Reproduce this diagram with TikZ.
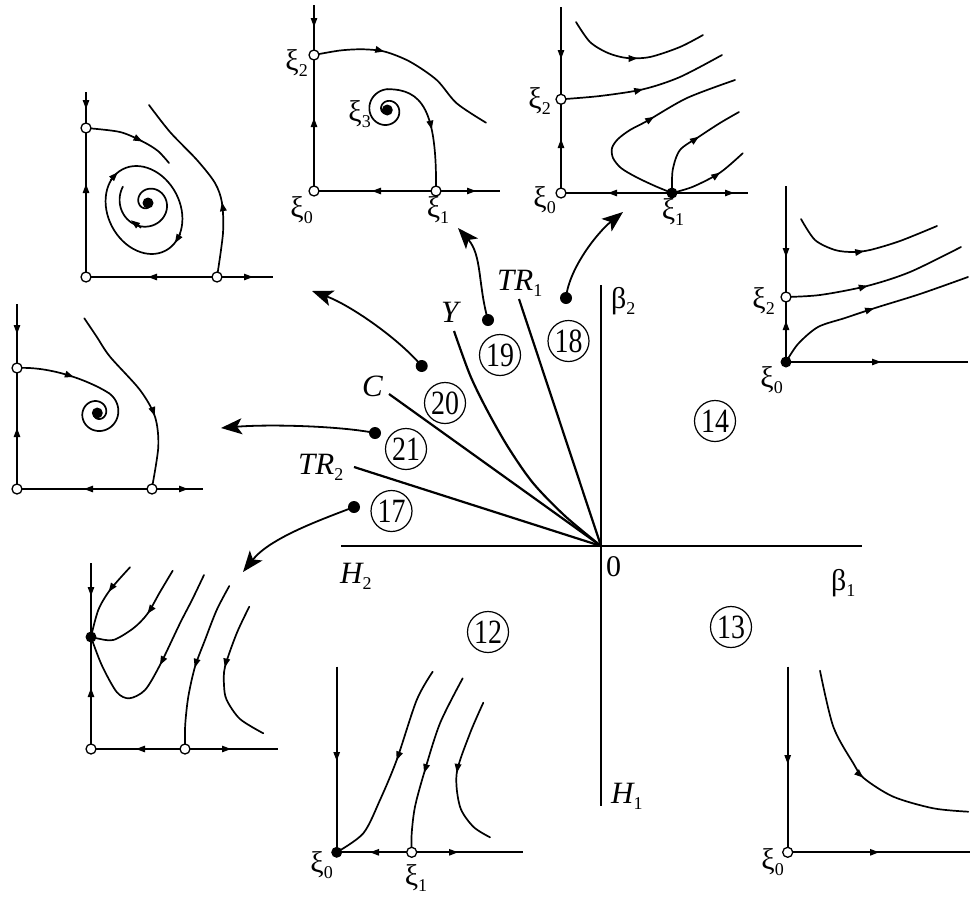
\documentclass[tikz,border=0pt]{standalone}
\usepackage{fontspec}
\usepackage{graphicx}
\setmainfont{Liberation Serif}
\usetikzlibrary{arrows.meta,decorations.markings}

\newcommand{\sbx}[1]{\raisebox{-0.22em}{\fontsize{18}{18}\selectfont\upshape #1}}
\newcommand{\xil}[1]{ξ\sbx{#1}}
\newcommand{\cnum}[1]{\scalebox{0.82}[1]{#1}}
\newcommand{\tipD}[2]{\draw[axarr] (#1,#2-7) -- (#1,#2+4);}
\newcommand{\tipU}[2]{\draw[axarr] (#1,#2+7) -- (#1,#2-4);}
\newcommand{\tipL}[2]{\draw[axarr] (#1+7,#2) -- (#1-4,#2);}
\newcommand{\tipR}[2]{\draw[axarr] (#1-7,#2) -- (#1+4,#2);}

\tikzset{
  ax/.style={line width=1.8pt},
  tr/.style={line width=1.7pt, line cap=round},
  fl/.style={postaction={decorate,decoration={markings,mark=at position #1 with {\arrow{Triangle[length=9pt,width=6.5pt]}}}}},
  axarr/.style={line width=1.2pt, -{Triangle[length=9pt,width=6.5pt]}},
  opn/.style={circle, draw, fill=white, line width=1.3pt, minimum size=10pt, inner sep=0pt},
  fld/.style={circle, fill, minimum size=11pt, inner sep=0pt},
  num/.style={circle, draw, line width=1.2pt, minimum size=41pt, inner sep=0pt, font=\fontsize{34}{34}\selectfont},
  lab/.style={inner sep=0pt, font=\fontsize{30}{30}\selectfont},
  ital/.style={inner sep=0pt, font=\fontsize{31}{31}\selectfont\itshape},
  conn/.style={line width=1.8pt, -{Stealth[length=21pt,width=16pt,inset=5pt]}},
  cdot/.style={circle, fill, minimum size=12pt, inner sep=0pt},
  mainax/.style={line width=2.8pt},
  ray/.style={line width=2.2pt},
}

\begin{document}
\begin{tikzpicture}[x=1pt,y=-1pt]
\useasboundingbox (0,0) rectangle (970,897);

% ================= main bifurcation diagram
\coordinate (O) at (601,546);
\coordinate (hl) at (341,546);
\coordinate (hr) at (862,546);
\coordinate (vt) at (601,285);
\coordinate (vb) at (601,806);
\draw[mainax] (hl) -- (hr);
\draw[mainax] (vt) -- (vb);
\coordinate (tr1s) at (519,299);
\coordinate (cs) at (389,394);
\coordinate (tr2s) at (354,467);
\draw[ray] (tr1s) -- (O);
\draw[ray] plot[smooth] coordinates {(454,331) (470,375) (487,410) (508,447) (533,483) (565,516) (601,546)};
\draw[ray] (cs) -- (O);
\draw[ray] (tr2s) -- (O);

\node[ital, anchor=base west] (lTR1) at (497,290) {TR\sbx{1}};
\node[ital, anchor=base west] (lY) at (441,322) {Y};
\node[ital, anchor=base west] (lC) at (362,396) {C};
\node[ital, anchor=base west] (lTR2) at (298,474) {TR\sbx{2}};
\node[ital, anchor=base west] (lH2) at (340,583) {H\sbx{2}};
\node[ital, anchor=base west] (lH1) at (611,803) {H\sbx{1}};
\node[lab, anchor=base west] (l0) at (606,576) {0};
\node[lab, anchor=base west] (lb1) at (831,590) {β\sbx{1}};
\node[lab, anchor=base west] (lb2) at (611,308) {β\sbx{2}};

\node[num] (n18) at (568.5,341) {\cnum{18}};
\node[num] (n19) at (500,355) {\cnum{19}};
\node[num] (n20) at (445,403) {\cnum{20}};
\node[num] (n21) at (406,449) {\cnum{21}};
\node[num] (n17) at (391.5,511) {\cnum{17}};
\node[num] (n14) at (715,421) {\cnum{14}};
\node[num] (n12) at (488,632) {\cnum{12}};
\node[num] (n13) at (731,627) {\cnum{13}};

% connectors
\node[cdot] (d18) at (566,298) {};
\coordinate (t18) at (623,212);
\draw[conn] (d18.center) .. controls (569,268) and (598,232) .. (t18);
\node[cdot] (d19) at (488,320) {};
\coordinate (t19) at (458,228);
\draw[conn] (d19.center) .. controls (478,285) and (482,255) .. (t19);
\node[cdot] (d20) at (421.7,366) {};
\coordinate (t20) at (312,291);
\draw[conn] (d20.center) .. controls (398,338) and (350,305) .. (t20);
\node[cdot] (d21) at (375,433) {};
\coordinate (t21) at (221,428);
\draw[conn] (d21.center) .. controls (340,426) and (270,424) .. (t21);
\node[cdot] (d17) at (354,507) {};
\coordinate (t17) at (243,572);
\draw[conn] (d17.center) .. controls (320,520) and (270,538) .. (t17);

% ================= P20 (top left)
\draw[ax] (86,92) -- (86,277) -- (273,277);
\tipD{86}{105} \tipU{86}{188} \tipL{152}{277} \tipR{249}{277}
\draw[tr, fl=0.63] plot[smooth] coordinates {(86,128) (120,132) (143,141.7) (158,151) (169,163)};
\draw[tr, fl=0.38] plot[smooth] coordinates {(217,277) (223,233) (222,203) (215,183) (197,160) (170,132) (149,105)};
\draw[tr, rotate around={-62:(144,210)}] (144,210) ellipse [x radius=46, y radius=36];
\draw[axarr] (110.2,180.3) -- (117.7,172.3);
\draw[axarr] (180.6,233.7) -- (174.9,243.1);
\draw[tr] plot[domain=-300:213, samples=110, smooth, variable=\ang]
  ({148+(3+0.0526*(\ang+300))*cos(\ang)}, {203+(3+0.0526*(\ang+300))*sin(\ang)});
\draw[axarr] (141,228) -- (131,220.3);
\node[fld] (p20c) at (148,203) {};
\node[opn] (p20a) at (86,128) {};
\node[opn] (p20o) at (86,277) {};
\node[opn] (p20b) at (217,277) {};

% ================= P19 (top middle)
\draw[ax] (314,5) -- (314,191) -- (500,191);
\tipD{314}{23} \tipU{314}{122} \tipL{376}{191} \tipR{472}{191}
\draw[tr, fl=0.36] plot[smooth] coordinates {(314,55) (340,50.5) (363,49.3) (385,51.7) (410,61.7) (436.7,80) (456.7,103.3) (486,122.7)};
\draw[tr] plot[domain=-270:270, samples=110, smooth, variable=\ang]
  ({387.3+(3+0.033*(\ang+270))*cos(\ang)}, {110+(3+0.033*(\ang+270))*sin(\ang)});
\draw[tr, fl=0.52] (387.3,89.2) .. controls (422,89) and (437,110) .. (436,191);
\node[fld] (p19c) at (387.3,110) {};
\node[opn] (p19a) at (314,55) {};
\node[opn] (p19o) at (314,191) {};
\node[opn] (p19b) at (436,191) {};
\node[lab, anchor=east] (p19l2) at (308,63) {\xil{2}};
\node[lab, anchor=east] (p19l3) at (371,114) {\xil{3}};
\node[lab, anchor=north east] (p19l0) at (313,196) {\xil{0}};
\node[lab, anchor=north] (p19l1) at (438,196) {\xil{1}};

% ================= P18 (top right)
\draw[ax] (561,7) -- (561,193) -- (748,193);
\tipD{561}{55} \tipU{561}{143} \tipL{612}{193} \tipR{730}{193}
\draw[tr, fl=0.52] plot[smooth] coordinates {(576,22) (590,42) (608,53) (627,58) (650,57) (680,47) (703,35)};
\draw[tr, fl=0.49] plot[smooth] coordinates {(561,99.3) (600,96) (643,89.3) (680,77) (722,55)};
\draw[tr, fl=0.6] plot[smooth] coordinates {(672,193) (655,186) (636,177) (621,168) (613,158) (612,148) (618,139) (630,130) (647,121) (687,98) (735,80)};
\draw[tr, fl=0.59] plot[smooth] coordinates {(672,193) (672.7,170) (680,150) (699,136.7) (720,123) (739,112)};
\draw[tr, fl=0.64] plot[smooth] coordinates {(672,193) (693,186.7) (720,172.7) (742.7,153.3)};
\node[opn] (p18a) at (561,99.3) {};
\node[opn] (p18o) at (561,193) {};
\node[fld] (p18b) at (672,193) {};
\node[lab, anchor=east] (p18l2) at (551,101) {\xil{2}};
\node[lab, anchor=east] (p18l0) at (556,200) {\xil{0}};
\node[lab, anchor=north] (p18l1) at (673,198) {\xil{1}};

% ================= P14 (right)
\draw[ax] (786,186) -- (786,362) -- (968,362);
\tipD{786}{253} \tipU{786}{325} \tipR{877}{362}
\draw[tr, fl=0.5] plot[smooth] coordinates {(801,219) (815,240) (835,250) (853,252) (870,250) (900,241) (937,226)};
\draw[tr, fl=0.45] plot[smooth] coordinates {(786,297) (820,295) (867,286) (910,272) (961,247)};
\draw[tr, fl=0.52] plot[smooth] coordinates {(786,362) (798,344) (818,327) (845,318) (875,308) (920,294) (968,277)};
\node[opn] (p14a) at (786,297) {};
\node[fld] (p14o) at (786,362) {};
\node[lab, anchor=east] (p14l2) at (775,301) {\xil{2}};
\node[lab, anchor=east] (p14l0) at (783,380) {\xil{0}};

% ================= P21 (left)
\draw[ax] (17,304) -- (17,489) -- (203,489);
\tipD{17}{330} \tipU{17}{432} \tipL{88}{489} \tipR{184}{489}
\draw[tr, fl=0.6] (17,368) .. controls (55,366) and (95,384) .. (108.8,393.1);
\draw[tr] plot[domain=-60:560, samples=130, smooth, variable=\ang]
  ({97.3+(23-0.03387*(\ang+60))*cos(\ang)}, {413+(23-0.03387*(\ang+60))*sin(\ang)});
\draw[tr, fl=0.62] plot[smooth] coordinates {(84.3,318.3) (96.7,336.7) (110,356.7) (140,390) (155,416.7) (158.3,446.7) (151.7,489.3)};
\node[fld] (p21c) at (97.3,413) {};
\node[opn] (p21a) at (17,368) {};
\node[opn] (p21o) at (17,489) {};
\node[opn] (p21b) at (152,489) {};

% ================= P17 (lower left)
\draw[ax] (91,563) -- (91,749) -- (278,749);
\tipD{91}{592} \tipU{91}{692} \tipL{140}{749} \tipR{227}{749}
\draw[tr, fl=0.4] plot[smooth] coordinates {(130,567.3) (110,590) (98.3,610) (91,637)};
\draw[tr, fl=0.43] plot[smooth] coordinates {(172.7,570.7) (160,592) (147.3,614) (133.3,628.3) (113.3,640) (96.7,638.3) (91,637)};
\draw[tr, fl=0.45] plot[smooth] coordinates {(204,575) (192,600) (180,623.3) (160,665) (145,690) (129.3,698.3) (116.7,692) (101.7,665) (91,637)};
\draw[tr, fl=0.52] plot[smooth] coordinates {(229.3,586) (216.7,610) (205,640) (195,666.7) (188.3,696.7) (185.2,725) (185,749)};
\draw[tr, fl=0.44] plot[smooth] coordinates {(249.3,606.7) (236.7,633.3) (225,666.7) (224,685) (226.7,700) (240,719) (263.3,733.3)};
\node[fld] (p17c) at (91,637) {};
\node[opn] (p17o) at (91,749) {};
\node[opn] (p17b) at (185,749) {};

% ================= P12 (bottom middle)
\draw[ax] (336.7,666.7) -- (336.7,852.3) -- (523,852.3);
\tipD{336.7}{757} \tipL{374}{852.3} \tipR{454}{852.3}
\draw[tr, fl=0.46] plot[smooth] coordinates {(432.7,671.7) (416.7,700) (396.7,760) (380,800) (363.3,833.3) (336.7,852.3)};
\draw[tr, fl=0.56] plot[smooth] coordinates {(462.7,678.3) (440,723.3) (424,773.3) (415,806.7) (411.7,833.3) (411.7,852.3)};
\draw[tr, fl=0.49] plot[smooth] coordinates {(483.3,702.7) (470,733.3) (456.7,773.3) (460,806.7) (473.3,826.7) (490,837.3)};
\node[fld] (p12o) at (336.7,852.3) {};
\node[opn] (p12b) at (411.7,852.3) {};
\node[lab, anchor=north east] (p12l0) at (333,851) {\xil{0}};
\node[lab, anchor=north] (p12l1) at (416,864) {\xil{1}};

% ================= P13 (bottom right)
\draw[ax] (787.7,666.7) -- (787.7,852.3) -- (970,852.3);
\tipD{787.7}{760} \tipR{875}{852.3}
\draw[tr, fl=0.51] plot[smooth] coordinates {(820,670.7) (833.3,726.7) (853.3,763.3) (864,778.3) (893.3,796.7) (933.3,808.3) (968.3,811.7)};
\node[opn] (p13o) at (787.7,852.3) {};
\node[lab, anchor=east] (p13l0) at (784,862) {\xil{0}};

\end{tikzpicture}
\end{document}
